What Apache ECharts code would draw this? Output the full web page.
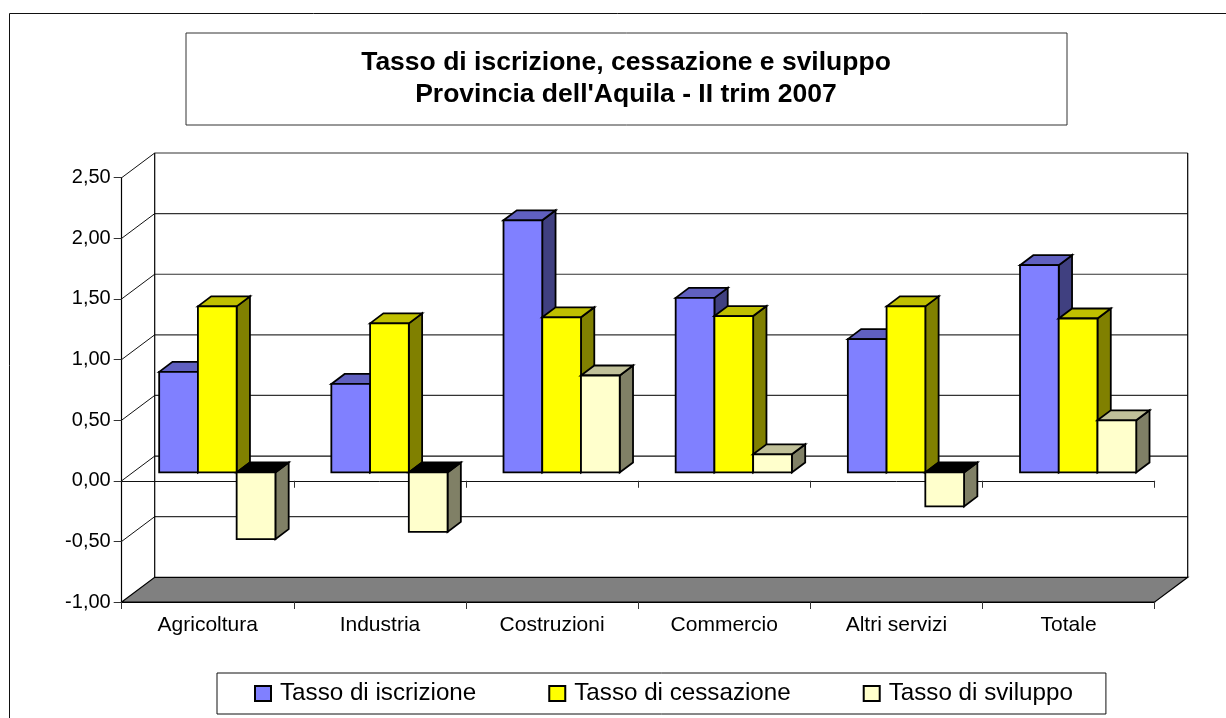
<!DOCTYPE html>
<html>
<head>
<meta charset="utf-8">
<title>Tasso di iscrizione, cessazione e sviluppo</title>
<script src="https://cdn.jsdelivr.net/npm/echarts@6/dist/echarts.min.js"></script>
<style>
  html, body { margin: 0; padding: 0; background: #fff; }
  #chart { width: 1226px; height: 718px; }
</style>
</head>
<body>
<div id="chart"></div>
<script>
const categories = ['Agricoltura', 'Industria', 'Costruzioni', 'Commercio', 'Altri servizi', 'Totale']
const iscrizione = [0.83, 0.73, 2.08, 1.44, 1.10, 1.71]
const cessazione = [1.37, 1.23, 1.28, 1.29, 1.37, 1.27]
const sviluppo = [-0.55, -0.49, 0.80, 0.15, -0.28, 0.43]
const wallTicks = [-1, -0.5, 0, 0.5, 1, 1.5, 2, 2.5]

const FONT = '"Liberation Sans", Arial, sans-serif'

// depth of the chart box and of a single bar, in pixels
const wallDx = 33
const wallDy = -24.7
const barDx = 13.3
const barDy = -10
const frontDx = 9.5
const frontDy = -8.3

const barShare = 0.225

function poly(points, fill, width) {
  return {
    type: 'polygon',
    shape: {points},
    style: {fill, stroke: '#000', lineWidth: width || 1.8, lineJoin: 'miter'}
  }
}

function seg(x1, y1, x2, y2, color, width) {
  return {
    type: 'line',
    shape: {x1, y1, x2, y2},
    style: {stroke: color || '#111', lineWidth: width || 1}
  }
}

function renderWall(params, api) {
  const box = params.coordSys
  const v = api.value(1)
  const y = api.coord([0, v])[1]
  const left = box.x
  const right = box.x + box.width
  const children = []
  if (v === wallTicks[0]) {
    children.push(poly([
      [left, y],
      [left + wallDx, y + wallDy],
      [right + wallDx, y + wallDy],
      [right, y]
    ], '#808080', 1.2))
    return {type: 'group', children}
  }
  children.push(seg(left, y, left + wallDx, y + wallDy))
  children.push(seg(left + wallDx, y + wallDy, right + wallDx, y + wallDy, v === 0 ? '#111' : '#333', 1.2))
  if (v === wallTicks[wallTicks.length - 1]) {
    const bottom = api.coord([0, wallTicks[0]])[1]
    children.push(seg(left + wallDx, y + wallDy, left + wallDx, bottom + wallDy, '#000', 1.2))
    children.push(seg(right + wallDx, y + wallDy, right + wallDx, bottom + wallDy, '#000', 1.2))
  }
  return {type: 'group', children}
}

function barRenderer(order, front, top, side) {
  return function (params, api) {
    const idx = api.value(0)
    const val = api.value(1)
    const zero = api.coord([idx, 0])
    const end = api.coord([idx, val])
    const w = api.size([1, 0])[0] * barShare
    const x0 = zero[0] - 1.5 * w + order * w + frontDx
    const x1 = x0 + w
    const yBase = zero[1] + frontDy
    const yEnd = end[1] + frontDy
    const yTop = Math.min(yBase, yEnd)
    const yBottom = Math.max(yBase, yEnd)
    return {
      type: 'group',
      children: [
        poly([[x1, yTop], [x1 + barDx, yTop + barDy], [x1 + barDx, yBottom + barDy], [x1, yBottom]], side),
        poly([[x0, yTop], [x0 + barDx, yTop + barDy], [x1 + barDx, yTop + barDy], [x1, yTop]], val < 0 ? '#000' : top),
        poly([[x0, yTop], [x1, yTop], [x1, yBottom], [x0, yBottom]], front)
      ]
    }
  }
}

function barSeries(name, values, order, front, top, side) {
  return {
    name,
    type: 'custom',
    xAxisIndex: 0,
    yAxisIndex: 0,
    z: 5 + order,
    clip: false,
    silent: true,
    itemStyle: {color: front, borderColor: '#000', borderWidth: 1.5},
    data: values.map((v, i) => [i, v]),
    encode: {x: 0, y: 1},
    renderItem: barRenderer(order, front, top, side)
  }
}

const chart = echarts.init(document.getElementById('chart'), null, {renderer: 'canvas'})

chart.setOption({
  animation: false,
  backgroundColor: '#fff',
  textStyle: {fontFamily: FONT},
  title: {
    text: 'Tasso di iscrizione, cessazione e sviluppo\nProvincia dell\'Aquila - II trim 2007',
    left: 621,
    top: 42,
    textAlign: 'center',
    textStyle: {fontFamily: FONT, fontSize: 26.5, fontWeight: 'bold', color: '#000', lineHeight: 32}
  },
  legend: {
    left: 217,
    top: 673,
    padding: [8.5, 33, 8.5, 37],
    itemWidth: 16,
    itemHeight: 15,
    itemGap: 72,
    borderColor: '#111',
    borderWidth: 1,
    icon: 'rect',
    selectedMode: false,
    textStyle: {fontFamily: FONT, fontSize: 24.2, color: '#000', padding: [0, 0, 0, 4]},
    data: ['Tasso di iscrizione', 'Tasso di cessazione', 'Tasso di sviluppo']
  },
  grid: {left: 121.7, top: 177.7, width: 1033, height: 424.3, containLabel: false},
  xAxis: [
    {
      type: 'category',
      data: categories,
      position: 'bottom',
      z: 4,
      axisLine: {onZero: false, lineStyle: {color: '#000', width: 1.2}},
      axisTick: {show: true, length: 7, lineStyle: {color: '#333'}},
      axisLabel: {fontFamily: FONT, fontSize: 21, color: '#000', margin: 13, interval: 0},
      splitLine: {show: false}
    },
    {
      type: 'category',
      data: categories,
      position: 'top',
      z: 1,
      axisLine: {onZero: true, lineStyle: {color: '#111', width: 1}},
      axisTick: {show: true, inside: true, length: 7, lineStyle: {color: '#333'}},
      axisLabel: {show: false},
      splitLine: {show: false}
    }
  ],
  yAxis: {
    type: 'value',
    min: -1,
    max: 2.5,
    interval: 0.5,
    z: 4,
    axisLine: {show: true, onZero: false, lineStyle: {color: '#000', width: 1.2}},
    axisTick: {show: true, length: 8, lineStyle: {color: '#333'}},
    axisLabel: {
      fontFamily: FONT,
      fontSize: 20,
      color: '#000',
      margin: 11,
      formatter: v => v.toFixed(2).replace('.', ',')
    },
    splitLine: {show: false}
  },
  graphic: [
    {
      type: 'polyline',
      silent: true,
      shape: {points: [[9.5, 718], [9.5, 13.5], [1226, 13.5]]},
      style: {stroke: '#111', fill: null, lineWidth: 1}
    },
    {
      type: 'rect',
      silent: true,
      z: -1,
      shape: {x: 186, y: 33, width: 881, height: 92},
      style: {fill: '#fff', stroke: '#333', lineWidth: 1}
    }
  ],
  series: [
    {
      name: 'wall',
      type: 'custom',
      xAxisIndex: 0,
      yAxisIndex: 0,
      z: 0,
      clip: false,
      silent: true,
      data: wallTicks.map(v => [0, v]),
      encode: {x: 0, y: 1},
      renderItem: renderWall
    },
    barSeries('Tasso di iscrizione', iscrizione, 0, '#8080FF', '#6060C0', '#404080'),
    barSeries('Tasso di cessazione', cessazione, 1, '#FFFF00', '#C0C000', '#808000'),
    barSeries('Tasso di sviluppo', sviluppo, 2, '#FFFFCC', '#C0C099', '#808066')
  ]
})
</script>
</body>
</html>
